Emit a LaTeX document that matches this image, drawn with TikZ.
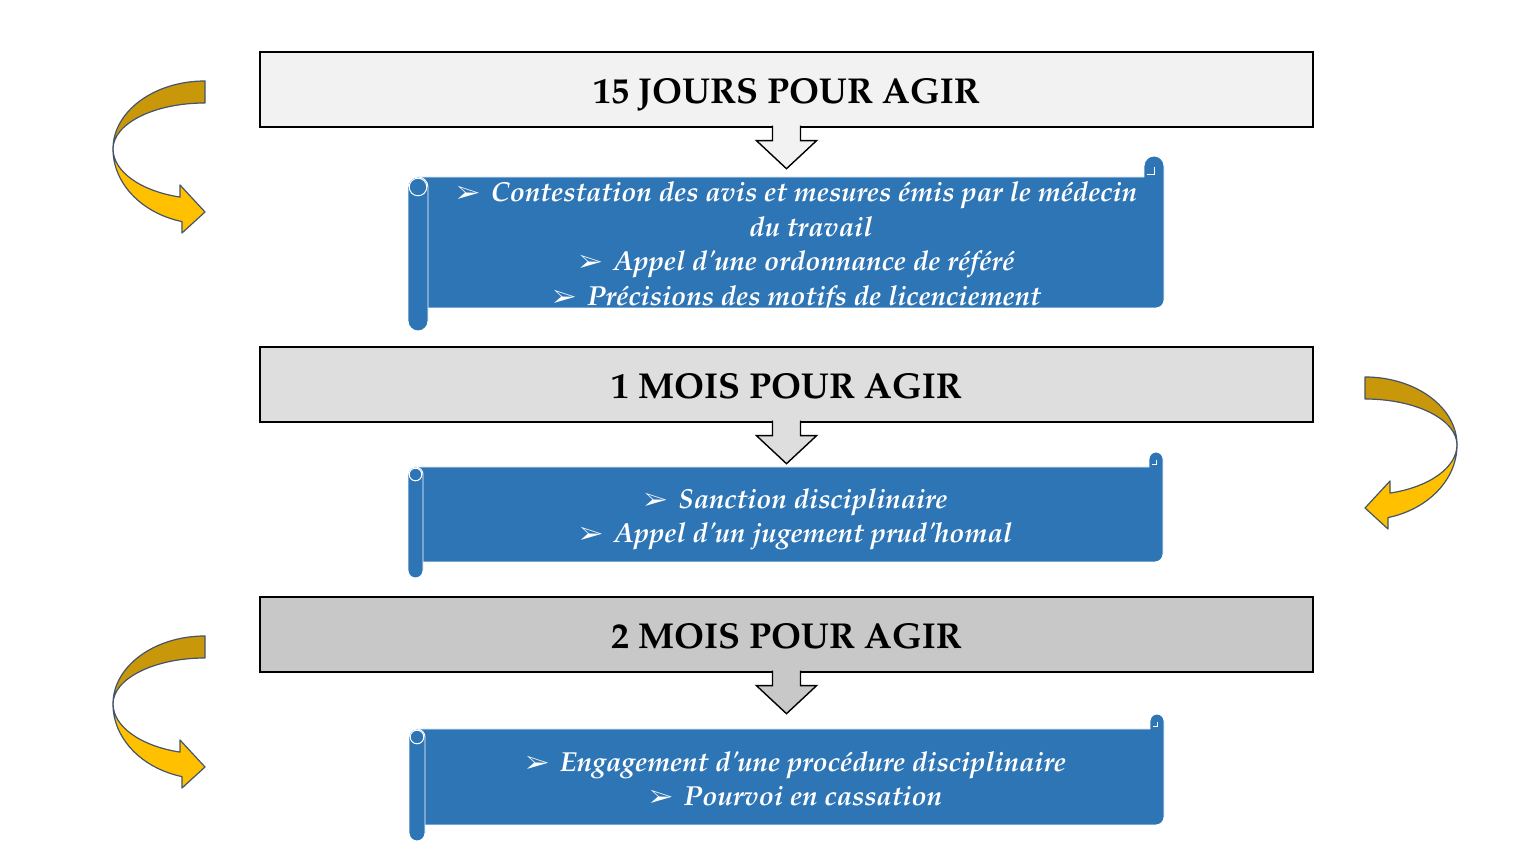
\documentclass[tikz,border=0pt]{standalone}
\usepackage[T1]{fontenc}
\renewcommand{\rmdefault}{ppl}
\usepackage{pifont}
\definecolor{scrollblue}{HTML}{2E75B6}
\definecolor{hdrA}{HTML}{F2F2F2}
\definecolor{hdrB}{HTML}{DEDEDE}
\definecolor{hdrC}{HTML}{C8C8C8}
\definecolor{golddark}{HTML}{C9970A}
\definecolor{goldlight}{HTML}{FFC000}
\definecolor{goldline}{HTML}{44546A}
\tikzset{
  hdr/.style={draw=black, line width=1.4pt, minimum width=1053pt, minimum height=75pt,
    inner sep=0pt, text height=29pt, text depth=0pt, font=\fontsize{36}{40}\selectfont\bfseries},
  scrolltxt/.style={text=white, inner sep=0pt, align=center,
    font=\fontsize{27.5}{34.5}\selectfont\bfseries\itshape},
  scrollbody/.style={fill=scrollblue, draw=white, line width=0.9pt, line join=round},
  goldtop/.style={fill=golddark, draw=goldline, line width=1.2pt, line join=round},
  goldbot/.style={fill=goldlight, draw=goldline, line width=1.2pt, line join=round},
  downarrow/.style={draw=black, line width=1.4pt, line join=miter}
}
\newcommand\bul{{\fontsize{25}{25}\selectfont\ding{226}}\hspace{0.4em}}
\newcommand\apos{\textquotesingle}
% curved twisted arrow, local centre at (0,0)
\newcommand\curvarrow[1]{%
  \begin{scope}[#1]
    \path[goldtop] (0,68) arc[start angle=90,end angle=180,x radius=92pt,y radius=68pt]
      arc[start angle=180,end angle=90,x radius=92pt,y radius=46pt] -- cycle;
    \path[goldbot] (-92,0) arc[start angle=180,end angle=255.5,x radius=92pt,y radius=75pt]
      -- (-23,-84) -- (0,-63) -- (-25,-36) -- (-25,-48.1)
      arc[start angle=254.2,end angle=180,x radius=92pt,y radius=50pt] -- cycle;
  \end{scope}}
% scroll: cylL, cylR, top, bodyBottom, cylBottom, right, curl radius
\newcommand\scrollshape[7]{%
  \pgfmathsetmacro\scW{#2-#1}%
  \pgfmathsetmacro\scM{(#1+#2)/2}%
  \pgfmathsetmacro\scR{\scW/2}%
  \pgfmathsetmacro\scRR{\scR-1.2}%
  \path[scrollbody] (\scM,#3) -- ({#6-2*#7},#3) -- ({#6-2*#7},{#3+#7+1})
     arc[start angle=180,end angle=0,radius=#7 pt] -- (#6,{#4+8})
     arc[start angle=0,end angle=-90,radius=8pt] -- (\scM,#4) -- cycle;
  \draw[white, line width=1pt] ({#6-2*#7+3},{#3+2}) -- ({#6-#7},{#3+2}) -- ({#6-#7},{#3+#7});
  \path[scrollbody, rounded corners=\scR pt] (#1,#5) rectangle (#2,#3);
  \draw[white, line width=1pt] (\scM,{#3-\scR}) circle[radius=\scRR pt];
}
\newcommand\downarr[2]{%
  \filldraw[downarrow, fill=#2] ([xshift=-14pt,yshift=2pt]#1.south) -- ([xshift=-14pt,yshift=-13pt]#1.south)
    -- ([xshift=-30pt,yshift=-13pt]#1.south) -- ([yshift=-41pt]#1.south)
    -- ([xshift=30pt,yshift=-13pt]#1.south) -- ([xshift=14pt,yshift=-13pt]#1.south)
    -- ([xshift=14pt,yshift=2pt]#1.south);}
\begin{document}
\begin{tikzpicture}[x=1pt,y=1pt]
\useasboundingbox (0,0) rectangle (1536,864);
\fill[white] (0,0) rectangle (1536,864);

% curved arrows
\curvarrow{shift={(205,715)}}
\curvarrow{shift={(205,160)}}
\curvarrow{shift={(1365,419)}, xscale=-1}

% scrolls
\scrollshape{408}{428}{687}{556}{533}{1164}{10}
\scrollshape{408}{423}{397}{302}{286}{1163}{7}
\scrollshape{409}{425}{135}{39}{23}{1164}{7}

% headers
\node[hdr, fill=hdrA] (h1) at (786.5,774.5) {15 JOURS POUR AGIR};
\node[hdr, fill=hdrB] (h2) at (786.5,479.5) {1 MOIS POUR AGIR};
\node[hdr, fill=hdrC] (h3) at (786.5,229.5) {2 MOIS POUR AGIR};

% scroll texts
\node[scrolltxt] (s1) at (797,616.5) {\bul Contestation des avis et mesures \'emis par le m\'edecin\\
  \hspace*{28pt}du travail\\
  \bul Appel d\apos une ordonnance de r\'ef\'er\'e\\
  \bul Pr\'ecisions des motifs de licenciement};
\node[scrolltxt] (s2) at (796,344.5) {\bul Sanction disciplinaire\\
  \bul Appel d\apos un jugement prud\apos homal};
\node[scrolltxt] (s3) at (796,85.5) {\bul Engagement d\apos une proc\'edure disciplinaire\\
  \bul Pourvoi en cassation};

% down arrows from headers to scrolls
\downarr{h1}{hdrA}
\downarr{h2}{hdrB}
\downarr{h3}{hdrC}
\end{tikzpicture}
\end{document}
